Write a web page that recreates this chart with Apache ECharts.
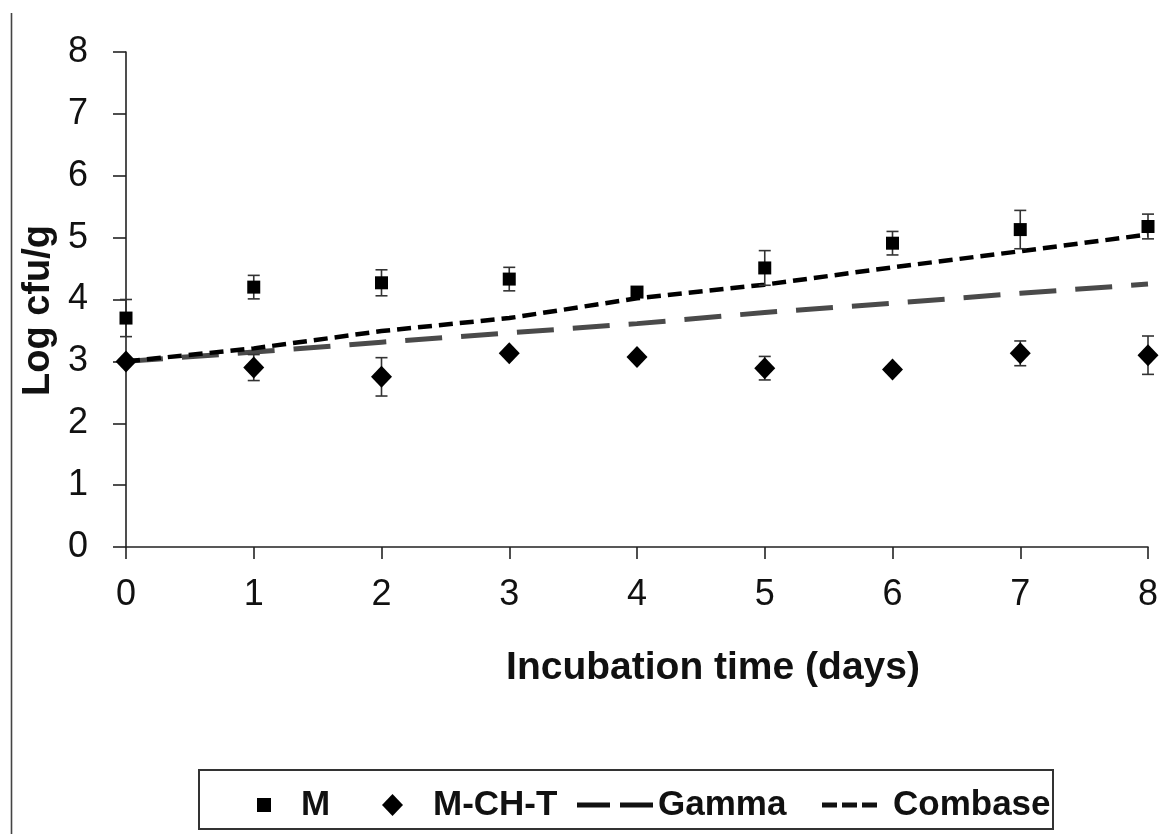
<!DOCTYPE html>
<html>
<head>
<meta charset="utf-8">
<script src="https://cdn.jsdelivr.net/npm/echarts@6/dist/echarts.min.js"></script>
<style>
html,body{margin:0;padding:0;background:#fff;}
#chart{width:1173px;height:834px;}
</style>
</head>
<body>
<div id="chart"></div>
<script>
// ---- data ----
var days = [0, 1, 2, 3, 4, 5, 6, 7, 8];
var mValues = [3.70, 4.20, 4.27, 4.33, 4.12, 4.51, 4.91, 5.13, 5.18];
var mErrors = [0.30, 0.19, 0.21, 0.19, 0.00, 0.28, 0.19, 0.31, 0.20];
var mchtValues = [3.00, 2.90, 2.75, 3.13, 3.07, 2.89, 2.87, 3.13, 3.10];
var mchtErrors = [0.00, 0.21, 0.31, 0.00, 0.00, 0.19, 0.00, 0.20, 0.31];
var gammaValues = [3.00, 3.15, 3.31, 3.46, 3.61, 3.79, 3.94, 4.10, 4.25];
var combaseValues = [3.00, 3.21, 3.49, 3.70, 4.02, 4.24, 4.52, 4.78, 5.05];
var yTicks = ['0', '1', '2', '3', '4', '5', '6', '7', '8'];
var xTicks = ['0', '1', '2', '3', '4', '5', '6', '7', '8'];
var seriesNames = ['M', 'M-CH-T', 'Gamma', 'Combase'];
var xTitle = 'Incubation time (days)';
var yTitle = 'Log cfu/g';

function pairs(xs, ys) { return xs.map(function (x, i) { return [x, ys[i]]; }); }
function errData(xs, ys, es) { return xs.map(function (x, i) { return [x, ys[i], es[i]]; }); }

var FONT = "'Liberation Sans', Arial, sans-serif";

function errorBarRender(params, api) {
  var x = api.value(0), y = api.value(1), e = api.value(2);
  if (!e) return null;
  var top = api.coord([x, y + e]);
  var bot = api.coord([x, y - e]);
  var hw = 6;
  var st = { stroke: '#333', lineWidth: 1.6, fill: null };
  return {
    type: 'group',
    children: [
      { type: 'line', shape: { x1: top[0], y1: top[1], x2: bot[0], y2: bot[1] }, style: st },
      { type: 'line', shape: { x1: top[0] - hw, y1: top[1], x2: top[0] + hw, y2: top[1] }, style: st },
      { type: 'line', shape: { x1: bot[0] - hw, y1: bot[1], x2: bot[0] + hw, y2: bot[1] }, style: st }
    ]
  };
}

var chart = echarts.init(document.getElementById('chart'), null, { renderer: 'canvas' });

var legendText = { fontFamily: FONT, fontWeight: 'bold', fontSize: 35, color: '#111', lineHeight: 36 };

var option = {
  backgroundColor: '#fff',
  animation: false,
  textStyle: { fontFamily: FONT },
  grid: { left: 126, right: 25, top: 52, bottom: 287 },
  xAxis: {
    type: 'value', min: 0, max: 8, interval: 1,
    name: xTitle, nameLocation: 'middle', nameGap: 102,
    nameTextStyle: { fontFamily: FONT, fontWeight: 'bold', fontSize: 39, color: '#111', padding: [0, 0, 0, 152] },
    axisLine: { lineStyle: { color: '#222', width: 1.6 } },
    axisTick: { show: true, length: 12, lineStyle: { color: '#222', width: 1.6 } },
    axisLabel: { fontFamily: FONT, fontSize: 36, color: '#111', margin: 30,
      formatter: function (v) { return xTicks[Math.round(v)]; } },
    splitLine: { show: false }
  },
  yAxis: {
    type: 'value', min: 0, max: 8, interval: 1,
    name: yTitle, nameLocation: 'middle', nameGap: 68, nameRotate: 90,
    nameTextStyle: { fontFamily: FONT, fontWeight: 'bold', fontSize: 38, color: '#111', padding: [0, 22, 0, 0] },
    axisLine: { show: true, lineStyle: { color: '#222', width: 1.6 } },
    axisTick: { show: true, length: 13, lineStyle: { color: '#222', width: 1.6 } },
    axisLabel: { fontFamily: FONT, fontSize: 36, color: '#111', margin: 38,
      formatter: function (v) { return yTicks[Math.round(v)]; } },
    splitLine: { show: false }
  },
  legend: [
    { data: [seriesNames[0]], left: 252, top: 782, icon: 'rect', itemWidth: 14, itemHeight: 14,
      textStyle: Object.assign({ padding: [0, 0, 0, 25] }, legendText), selectedMode: false },
    { data: [seriesNames[1]], left: 377, top: 782, icon: 'diamond', itemWidth: 21, itemHeight: 22,
      textStyle: Object.assign({ padding: [0, 0, 0, 25] }, legendText), selectedMode: false },
    { data: [seriesNames[2]], left: 572, top: 782, itemWidth: 76, itemHeight: 5,
      icon: 'path://M0,0h33v5h-33zM43,0h33v5h-33z',
      itemStyle: { color: '#111' },
      textStyle: Object.assign({ padding: [0, 0, 0, 0] }, legendText), selectedMode: false },
    { data: [seriesNames[3]], left: 817, top: 782, itemWidth: 55, itemHeight: 5,
      icon: 'path://M0,0h15v5h-15zM20,0h15v5h-15zM40,0h15v5h-15z',
      itemStyle: { color: '#111' },
      textStyle: Object.assign({ padding: [0, 0, 0, 11] }, legendText), selectedMode: false }
  ],
  graphic: [
    { type: 'line', shape: { x1: 11.5, y1: 13, x2: 11.5, y2: 834 }, style: { stroke: '#444', lineWidth: 1.6 }, silent: true },
    { type: 'rect', shape: { x: 199, y: 770, width: 854, height: 59 }, style: { stroke: '#333', lineWidth: 2, fill: null }, silent: true }
  ],
  series: [
    {
      name: seriesNames[2], type: 'line', data: pairs(days, gammaValues),
      symbol: 'none', z: 2,
      lineStyle: { color: '#4a4a4a', width: 5, type: [37, 19] },
      itemStyle: { color: '#111' }
    },
    {
      name: seriesNames[3], type: 'line', data: pairs(days, combaseValues),
      symbol: 'none', z: 3,
      lineStyle: { color: '#000', width: 4.5, type: [14, 7] },
      itemStyle: { color: '#111' }
    },
    {
      name: 'M err', type: 'custom', data: errData(days, mValues, mErrors),
      renderItem: errorBarRender, z: 4, silent: true
    },
    {
      name: 'M-CH-T err', type: 'custom', data: errData(days, mchtValues, mchtErrors),
      renderItem: errorBarRender, z: 4, silent: true
    },
    {
      name: seriesNames[0], type: 'scatter', data: pairs(days, mValues),
      symbol: 'rect', symbolSize: 13, z: 5,
      itemStyle: { color: '#000', opacity: 1 }
    },
    {
      name: seriesNames[1], type: 'scatter', data: pairs(days, mchtValues),
      symbol: 'diamond', symbolSize: [21, 22], z: 5,
      itemStyle: { color: '#000', opacity: 1 }
    }
  ]
};
chart.setOption(option);
</script>
</body>
</html>
